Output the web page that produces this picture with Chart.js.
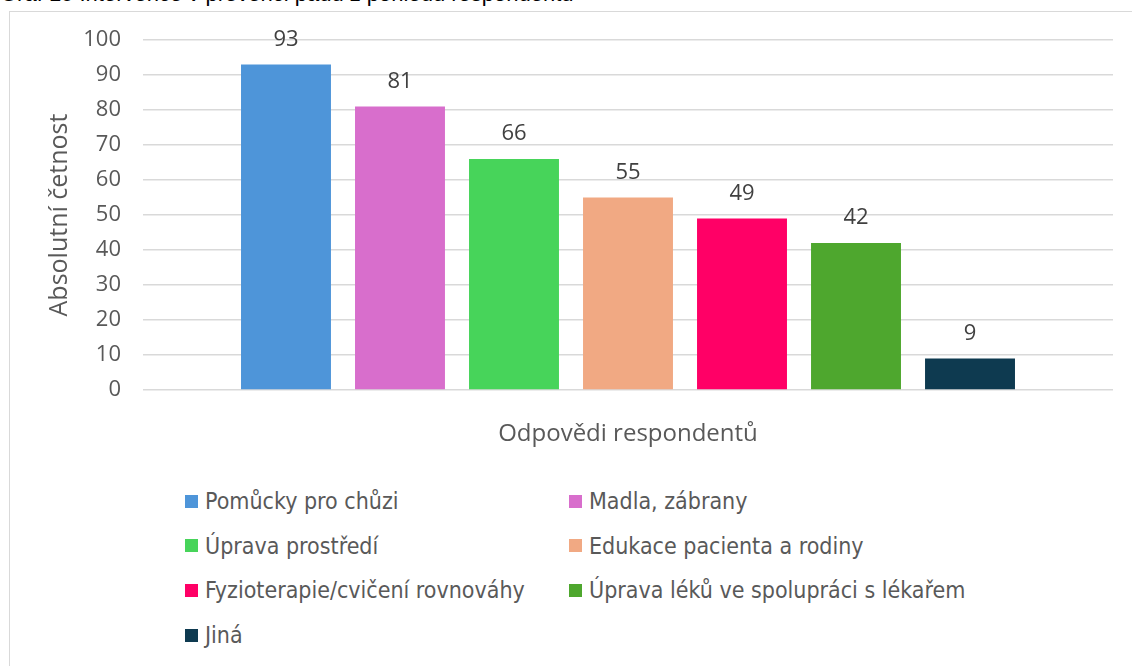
<!DOCTYPE html>
<html><head><meta charset="utf-8">
<script src="https://cdn.jsdelivr.net/npm/chart.js@4/dist/chart.umd.min.js"></script>
<style>
html,body{margin:0;padding:0;background:#fff;width:1132px;height:666px;overflow:hidden;position:relative;}
#title{position:absolute;left:0;top:-19px;font:22px 'Liberation Sans',sans-serif;color:#000;white-space:nowrap;}
#frame{position:absolute;left:9px;top:11px;width:1140px;height:700px;border:1.5px solid #d9d9d9;box-sizing:border-box;}
#wrap{position:absolute;left:0;top:0;width:1132px;height:470px;}
.li{position:absolute;display:flex;align-items:center;font:23px 'DejaVu Sans Condensed',sans-serif;color:#595959;white-space:nowrap;height:30px;}
.li span.b{display:inline-block;width:13px;height:13px;margin-right:7px;}
</style></head>
<body>
<div id="title">Graf 15 Intervence v prevenci pádů z pohledu respondentů</div>
<div id="frame"></div>
<div id="wrap"><canvas id="c" width="1132" height="470"></canvas></div>
<div id="legend"></div>
<script>
const categories = ["Odpovědi respondentů"];
const seriesNames = ["Pomůcky pro chůzi","Madla, zábrany","Úprava prostředí","Edukace pacienta a rodiny","Fyzioterapie/cvičení rovnováhy","Úprava léků ve spolupráci s lékařem","Jiná"];
const seriesValues = [93, 81, 66, 55, 49, 42, 9];
const seriesColors = ["#4E95D9","#D86ECC","#47D45A","#F1A983","#FF0066","#4EA72E","#0E3A50"];
const yTicks = [0,10,20,30,40,50,60,70,80,90,100];

Chart.defaults.font.family = "'Open Sans', sans-serif";

const valueLabels = {
  id: 'valueLabels',
  afterDatasetsDraw(chart) {
    const ctx = chart.ctx;
    ctx.save();
    ctx.font = "22px 'Open Sans', sans-serif";
    ctx.fillStyle = '#404040';
    ctx.textAlign = 'center';
    ctx.textBaseline = 'middle';
    chart.data.datasets.forEach((ds, i) => {
      const meta = chart.getDatasetMeta(i);
      meta.data.forEach((bar, j) => {
        ctx.fillText(String(ds.data[j]), bar.x, bar.y - 25);
      });
    });
    ctx.restore();
  }
};

const chart = new Chart(document.getElementById('c'), {
  type: 'bar',
  data: {
    labels: categories,
    datasets: seriesNames.map((n, i) => ({
      label: n,
      data: [seriesValues[i]],
      backgroundColor: seriesColors[i],
      categoryPercentage: 0.8227,
      barPercentage: 0.789
    }))
  },
  options: {
    responsive: false,
    animation: false,
    layout: { padding: { left: 45, right: 19, top: 40, bottom: 0 } },
    plugins: { legend: { display: false }, tooltip: { enabled: false }, title: { display: false } },
    scales: {
      x: {
        grid: { display: false, drawTicks: false },
        border: { display: false },
        ticks: { color: '#595959', font: { size: 24 }, padding: 30 },
        afterFit: s => { s.height = 80; }
      },
      y: {
        min: 0, max: 100,
        afterBuildTicks: s => { s.ticks = yTicks.map(v => ({ value: v })); },
        grid: { color: '#d9d9d9', lineWidth: 1.5, drawTicks: false },
        border: { display: false },
        ticks: { color: '#595959', font: { size: 22 }, padding: 22 },
        title: { display: true, text: 'Absolutní četnost', color: '#595959', font: { size: 25 }, padding: 0 },
        afterFit: s => { s.width = 98; }
      }
    }
  },
  plugins: [valueLabels]
});

const leg = document.getElementById('legend');
chart.data.datasets.forEach((ds, i) => {
  const col = i % 2, row = Math.floor(i / 2);
  const d = document.createElement('div');
  d.className = 'li';
  d.style.left = (col ? 569 : 185) + 'px';
  d.style.top = (501 + row * 44.7 - 15) + 'px';
  d.innerHTML = '<span class="b" style="background:' + ds.backgroundColor + '"></span>';
  d.appendChild(document.createTextNode(ds.label));
  leg.appendChild(d);
});
</script>
</body></html>
